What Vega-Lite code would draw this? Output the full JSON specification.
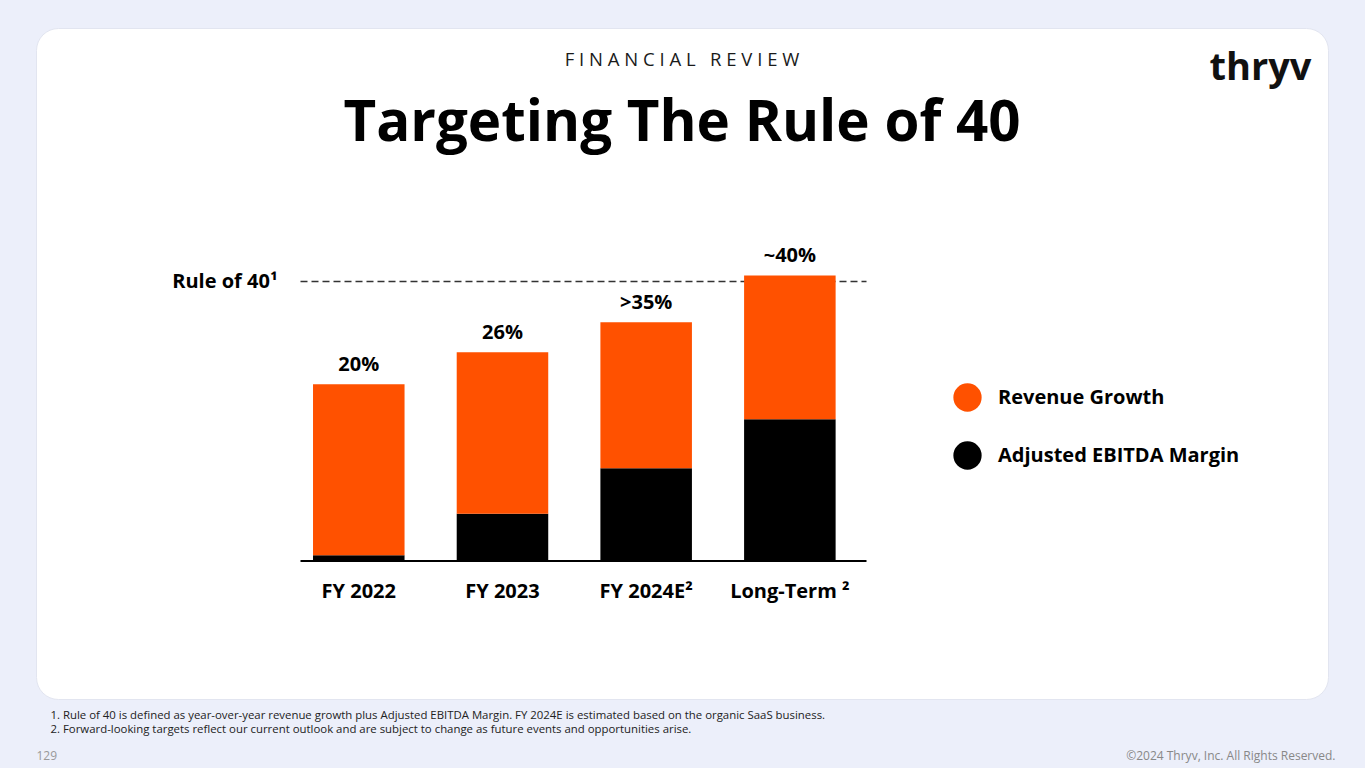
{
  "$schema": "https://vega.github.io/schema/vega-lite/v6.json",
  "width": 1292,
  "height": 671,
  "autosize": {"type": "none"},
  "padding": {"left": 36, "top": 28, "right": 37, "bottom": 69},
  "background": "#eceffa",
  "config": {
    "font": "Open Sans",
    "view": {"fill": "#ffffff", "stroke": "#e2e5f0", "strokeWidth": 1, "cornerRadius": 22}
  },
  "title": {
    "text": "F I N A N C I A L \u00a0 R E V I E W",
    "subtitle": "Targeting The Rule of 40",
    "anchor": "middle",
    "offset": -124,
    "font": "Open Sans",
    "fontSize": 18.5,
    "fontWeight": "normal",
    "color": "#1a1a1a",
    "subtitleFont": "Open Sans",
    "subtitleFontSize": 56.5,
    "subtitleFontWeight": "bold",
    "subtitleColor": "#000000",
    "subtitlePadding": 26
  },
  "data": {
    "values": [
      {"cat": "FY 2022", "series": "Adjusted EBITDA Margin", "value": 0.74, "label": "20%"},
      {"cat": "FY 2022", "series": "Revenue Growth", "value": 24.5, "label": "20%"},
      {"cat": "FY 2023", "series": "Adjusted EBITDA Margin", "value": 6.7, "label": "26%"},
      {"cat": "FY 2023", "series": "Revenue Growth", "value": 23.1, "label": "26%"},
      {"cat": "FY 2024E²", "series": "Adjusted EBITDA Margin", "value": 13.2, "label": ">35%"},
      {"cat": "FY 2024E²", "series": "Revenue Growth", "value": 20.9, "label": ">35%"},
      {"cat": "Long-Term ²", "series": "Adjusted EBITDA Margin", "value": 20.2, "label": "~40%"},
      {"cat": "Long-Term ²", "series": "Revenue Growth", "value": 20.6, "label": "~40%"}
    ]
  },
  "layer": [
    {
      "mark": {"type": "bar"},
      "encoding": {
        "x": {
          "field": "cat",
          "type": "nominal",
          "sort": null,
          "scale": {
            "domain": ["FY 2022", "FY 2023", "FY 2024E²", "Long-Term ²"],
            "range": [264, 830],
            "paddingInner": 0.363,
            "paddingOuter": 0.151,
            "align": 0.3
          },
          "axis": {
            "orient": "bottom",
            "offset": -138.5,
            "domain": true,
            "domainColor": "#000000",
            "domainWidth": 2,
            "ticks": false,
            "tickSize": 0,
            "grid": false,
            "labelAngle": 0,
            "labelFont": "Open Sans",
            "labelFontSize": 20,
            "labelFontWeight": "bold",
            "labelColor": "#000000",
            "labelBaseline": "top",
            "labelPadding": 21,
            "title": [
              "1. Rule of 40 is defined as year-over-year revenue growth plus Adjusted EBITDA Margin. FY 2024E is estimated based on the organic SaaS business.",
              "2. Forward-looking targets reflect our current outlook and are subject to change as future events and opportunities arise."
            ],
            "titleFont": "Open Sans",
            "titleFontSize": 11.4,
            "titleFontWeight": "normal",
            "titleColor": "#222222",
            "titleAnchor": "start",
            "titleAlign": "left",
            "titleBaseline": "top",
            "titleLineHeight": 14,
            "titleX": 14,
            "titleY": 149
          }
        },
        "y": {
          "field": "value",
          "type": "quantitative",
          "stack": "zero",
          "scale": {"domain": [0, 40], "range": [532.5, 253], "nice": false, "zero": true},
          "axis": {
            "orient": "left",
            "offset": -264,
            "values": [40],
            "labelExpr": "'Rule of 40¹'",
            "domain": false,
            "ticks": false,
            "tickSize": 0,
            "grid": false,
            "labelFont": "Open Sans",
            "labelFontSize": 20,
            "labelFontWeight": "bold",
            "labelColor": "#000000",
            "labelPadding": 23,
            "labelBaseline": "middle",
            "title": "129",
            "titleFont": "Open Sans",
            "titleFontSize": 12,
            "titleFontWeight": "normal",
            "titleColor": "#999999",
            "titleAngle": 0,
            "titleAlign": "left",
            "titleBaseline": "middle",
            "titleX": -264,
            "titleY": 727
          }
        },
        "color": {
          "field": "series",
          "type": "nominal",
          "scale": {"domain": ["Revenue Growth", "Adjusted EBITDA Margin"], "range": ["#ff5100", "#000000"]},
          "legend": {
            "orient": "none",
            "legendX": 917,
            "legendY": 355,
            "title": null,
            "padding": 0,
            "symbolType": "circle",
            "symbolSize": 800,
            "symbolStrokeWidth": 0,
            "labelFont": "Open Sans",
            "labelFontSize": 20,
            "labelFontWeight": "bold",
            "labelColor": "#000000",
            "labelOffset": 16,
            "labelLimit": 400,
            "rowPadding": 29
          }
        },
        "order": {"field": "series", "sort": "ascending"}
      }
    },
    {
      "transform": [
        {"aggregate": [{"op": "sum", "field": "value", "as": "total"}], "groupby": ["cat", "label"]}
      ],
      "mark": {"type": "text", "font": "Open Sans", "fontSize": 20, "fontWeight": "bold", "color": "#000000", "baseline": "alphabetic", "dy": -13},
      "encoding": {
        "x": {
          "field": "cat",
          "type": "nominal",
          "sort": null,
          "axis": {
            "orient": "top",
            "offset": -253,
            "labels": false,
            "ticks": false,
            "tickSize": 0,
            "grid": false,
            "domain": true,
            "domainColor": "#333333",
            "domainWidth": 1.5,
            "domainDash": [7, 4],
            "title": "thryv",
            "titleFont": "Open Sans",
            "titleFontSize": 38,
            "titleFontWeight": "bold",
            "titleColor": "#111111",
            "titleAlign": "center",
            "titleBaseline": "alphabetic",
            "titleX": 1224,
            "titleY": -202
          }
        },
        "y": {
          "field": "total",
          "type": "quantitative",
          "axis": {
            "orient": "right",
            "labels": false,
            "ticks": false,
            "tickSize": 0,
            "domain": false,
            "grid": false,
            "title": "©2024 Thryv, Inc. All Rights Reserved.",
            "titleFont": "Open Sans",
            "titleFontSize": 12,
            "titleFontWeight": "normal",
            "titleColor": "#888888",
            "titleAngle": 0,
            "titleAlign": "right",
            "titleBaseline": "middle",
            "titleX": 7,
            "titleY": 727
          }
        },
        "text": {"field": "label"}
      }
    }
  ],
  "resolve": {"axis": {"x": "independent", "y": "independent"}}
}
